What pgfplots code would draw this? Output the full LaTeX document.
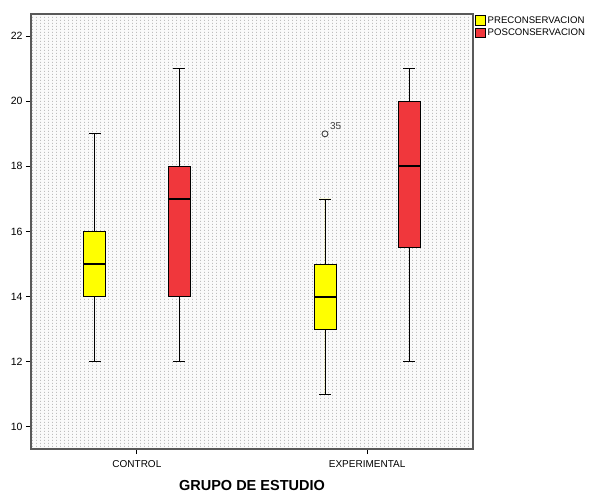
\documentclass[border=0pt]{standalone}
\usepackage{pgfplots}
\pgfplotsset{compat=1.18}
\usepgfplotslibrary{statistics}
\usetikzlibrary{patterns}
\usepackage{fontspec}
\setmainfont{Liberation Sans}
\definecolor{boxyel}{RGB}{255,255,0}
\definecolor{boxred}{RGB}{240,55,60}
\pgfdeclarepatternformonly{spssdots}{\pgfpointorigin}{\pgfpoint{4pt}{3pt}}{\pgfpoint{4pt}{3pt}}{%
  \pgfpathrectangle{\pgfpointorigin}{\pgfpoint{0.9pt}{1.6pt}}\pgfusepath{fill}}
\begin{document}
\begin{tikzpicture}
\begin{axis}[
  scale only axis, width=442pt, height=435pt,
  xmin=-0.46, xmax=1.46, ymin=9.32, ymax=22.68,
  xtick={0,1}, xticklabels={CONTROL,EXPERIMENTAL},
  ytick={10,12,...,22},
  tick align=outside, major tick length=5pt,
  xtick pos=bottom, ytick pos=left,
  axis line style={draw=black!65, line width=1.2pt},
  tick style={black, line width=0.8pt},
  ticklabel style={font=\fontsize{10.5}{11}\selectfont},
  xticklabel style={font=\fontsize{10}{11}\selectfont, yshift=-3pt},
  /pgf/number format/assume math mode=true,
  xlabel={GRUPO DE ESTUDIO},
  xlabel style={font=\fontsize{14.5}{16}\selectfont\bfseries, yshift=-6pt},
  axis background/.style={fill=black!2, postaction={pattern=spssdots, pattern color=black!38}},
  legend style={at={(1.003,1.0)}, anchor=north west, draw=none, fill=none,
    font=\fontsize{9.6}{11}\selectfont, row sep=0pt, inner sep=0.5pt,
    /tikz/every even column/.append style={column sep=1pt}},
  legend cell align=left,
  legend image code/.code={\draw[#1] (0pt,-4.5pt) rectangle (10pt,5pt);},
  boxplot/draw direction=y,
  clip=false,
]
\addlegendimage{fill=boxyel, draw=black, line width=0.7pt}
\addlegendentry{PRECONSERVACION}
\addlegendimage{fill=boxred, draw=black, line width=0.7pt}
\addlegendentry{POSCONSERVACION}

\addplot[boxplot prepared={draw position=-0.183, lower whisker=12, lower quartile=14,
  median=15, upper quartile=16, upper whisker=19, box extend=0.096, whisker extend=0.05},
  draw=black, fill=boxyel, line width=0.8pt,
  boxplot/every median/.style={line width=2pt}] coordinates {};
\addplot[boxplot prepared={draw position=0.183, lower whisker=12, lower quartile=14,
  median=17, upper quartile=18, upper whisker=21, box extend=0.096, whisker extend=0.05},
  draw=black, fill=boxred, line width=0.8pt,
  boxplot/every median/.style={line width=2pt}] coordinates {};
\addplot[boxplot prepared={draw position=0.817, lower whisker=11, lower quartile=13,
  median=14, upper quartile=15, upper whisker=17, box extend=0.096, whisker extend=0.05},
  draw=black, fill=boxyel, line width=0.8pt, mark=o,
  mark options={draw=black!75, fill=none, line width=0.9pt}, mark size=3pt,
  boxplot/every median/.style={line width=2pt}] table[row sep=\\, y index=0] {data\\ 19\\};
\addplot[boxplot prepared={draw position=1.183, lower whisker=12, lower quartile=15.5,
  median=18, upper quartile=20, upper whisker=21, box extend=0.096, whisker extend=0.05},
  draw=black, fill=boxred, line width=0.8pt,
  boxplot/every median/.style={line width=2pt}] coordinates {};
\node[anchor=south west, font=\fontsize{10}{11}\selectfont, text=black!75, inner sep=0pt]
  at (axis cs:0.817,19) [xshift=5pt, yshift=4pt] {35};
\path (rel axis cs:-0.0701,-0.0966) rectangle (rel axis cs:1.2647,1.0322);
\end{axis}
\end{tikzpicture}
\end{document}
